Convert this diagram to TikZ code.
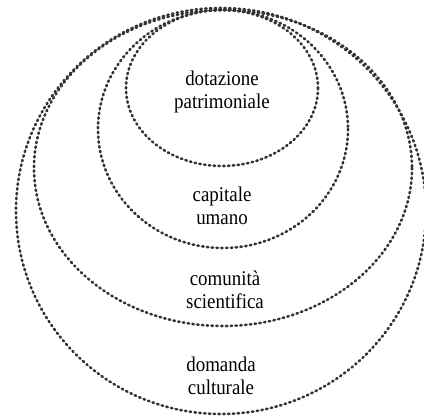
\documentclass[tikz,border=0pt]{standalone}
\usepackage{fontspec}
\setmainfont{Liberation Serif}
\usepackage{tikz}

\begin{document}
\begin{tikzpicture}[x=1pt,y=-1pt,line cap=round]
\useasboundingbox (0,0) rectangle (424,416);
\clip (0,0) rectangle (424,416);
% nested dotted ellipses, all touching near the top
\tikzset{dots/.style={black!80,line width=2.6pt,dash pattern=on 1.4pt off 3.4pt}}
\draw[dots] (221,211) ellipse [x radius=205,y radius=203];
\draw[dots] (223,168) ellipse [x radius=189,y radius=158];
\draw[dots] (223,129) ellipse [x radius=125,y radius=119];
\draw[dots] (222,88) ellipse [x radius=96,y radius=78];
% labels
\tikzset{lbl/.style={align=center,font=\fontsize{21}{23.5}\selectfont,inner sep=0pt,xscale=0.9}}
\node[lbl] (dotazione) at (222,92) {dotazione\\patrimoniale};
\node[lbl] (capitale) at (222,206) {capitale\\umano};
\node[lbl] (comunita) at (225,290) {comunità\\scientifica};
\node[lbl] (domanda) at (221,376) {domanda\\culturale};
\end{tikzpicture}
\end{document}
